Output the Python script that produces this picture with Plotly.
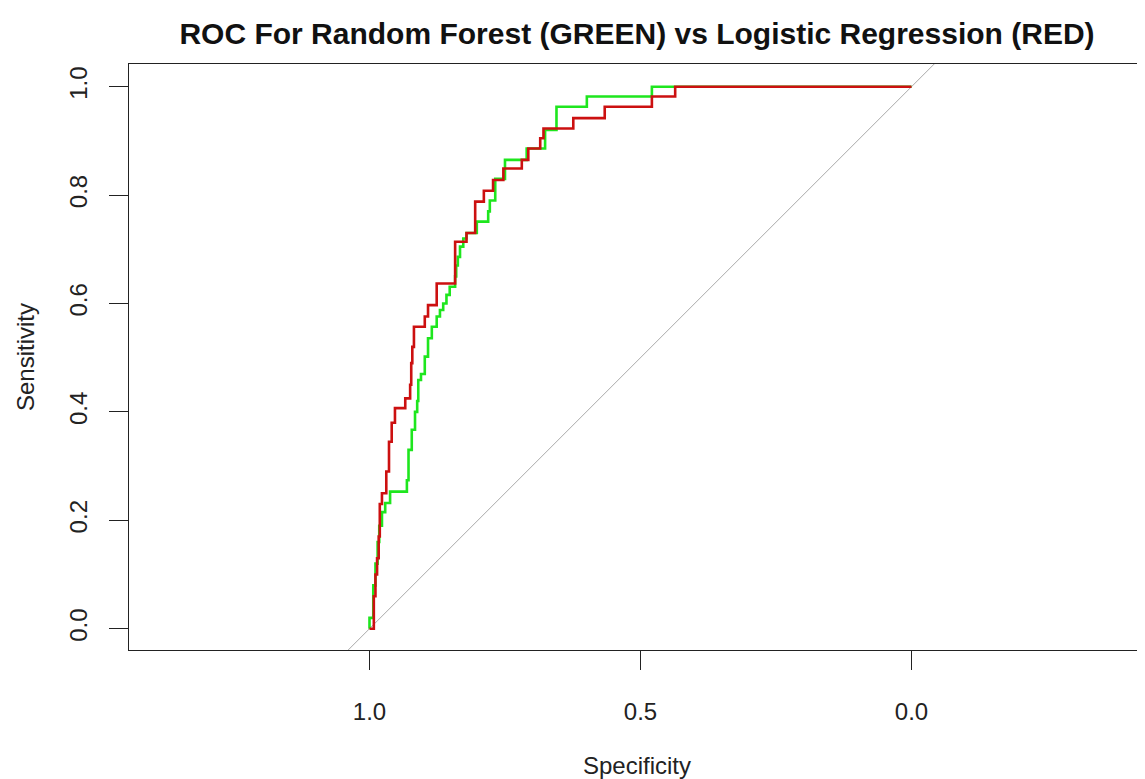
import plotly.graph_objects as go

# Random Forest ROC (green): specificity where each sensitivity level ends
rf_spec = [1.000, 1.000, 0.993, 0.989, 0.985, 0.982, 0.977, 0.971, 0.962, 0.931, 0.928,
           0.922, 0.916, 0.912, 0.910, 0.905, 0.898, 0.892, 0.885, 0.876, 0.870, 0.864,
           0.858, 0.852, 0.842, 0.840, 0.837, 0.833, 0.827, 0.821, 0.802, 0.781, 0.778,
           0.768, 0.750, 0.710, 0.676, 0.655, 0.599, 0.479, 0.000]
rf_sens = [0.000, 0.000, 0.020, 0.080, 0.120, 0.160, 0.190, 0.215, 0.232, 0.253, 0.274,
           0.330, 0.367, 0.400, 0.420, 0.459, 0.470, 0.502, 0.536, 0.557, 0.576, 0.588,
           0.600, 0.616, 0.631, 0.650, 0.670, 0.686, 0.705, 0.720, 0.730, 0.751, 0.770,
           0.790, 0.830, 0.865, 0.886, 0.920, 0.963, 0.982, 1.000]

# Logistic Regression ROC (red)
lr_spec = [1.000, 0.992, 0.989, 0.986, 0.983, 0.981, 0.977, 0.969, 0.964, 0.959, 0.953,
           0.934, 0.925, 0.923, 0.921, 0.918, 0.898, 0.892, 0.876, 0.842, 0.821, 0.805,
           0.789, 0.772, 0.753, 0.719, 0.707, 0.685, 0.679, 0.624, 0.566, 0.479, 0.436,
           0.000]
lr_sens = [0.000, 0.000, 0.060, 0.100, 0.130, 0.170, 0.230, 0.250, 0.290, 0.345, 0.380,
           0.407, 0.425, 0.450, 0.490, 0.520, 0.557, 0.576, 0.597, 0.637, 0.714, 0.730,
           0.788, 0.808, 0.828, 0.849, 0.865, 0.886, 0.905, 0.923, 0.942, 0.963, 0.982,
           1.000]

# identity reference line
diag_spec = [1.2, -0.2]
diag_sens = [-0.2, 1.2]

x_ticks = [1.0, 0.5, 0.0]
x_ticktext = ["1.0", "0.5", "0.0"]
y_ticks = [0.0, 0.2, 0.4, 0.6, 0.8, 1.0]
y_ticktext = ["0.0", "0.2", "0.4", "0.6", "0.8", "1.0"]

FONT = "Liberation Sans, Arial, sans-serif"
W, H = 1137, 771  # page body has an 8px margin

fig = go.Figure()
fig.add_trace(go.Scatter(x=diag_spec, y=diag_sens, mode="lines",
                         line=dict(color="#a9a9a9", width=1), hoverinfo="skip",
                         showlegend=False))
fig.add_trace(go.Scatter(x=rf_spec, y=rf_sens, mode="lines", line_shape="vh",
                         line=dict(color="#1ee61e", width=2.6), showlegend=False,
                         name="Random Forest"))
fig.add_trace(go.Scatter(x=lr_spec, y=lr_sens, mode="lines", line_shape="vh",
                         line=dict(color="#cc1010", width=2.6), showlegend=False,
                         name="Logistic Regression"))

fig.update_layout(
    width=W, height=H,
    margin=dict(l=121, r=0, t=56, b=129),
    paper_bgcolor="white", plot_bgcolor="white",
    font=dict(family=FONT, color="#222222"),
    title=dict(text="<b>ROC For Random Forest (GREEN) vs Logistic Regression (RED)</b>",
               x=0.5, xref="paper", xanchor="center",
               y=1 - 25 / H, yref="container", yanchor="middle",
               font=dict(family=FONT, size=30, color="#111111")),
)
fig.update_xaxes(range=[1.4437, -0.4308], tickvals=x_ticks, ticktext=x_ticktext,
                 ticks="outside", ticklen=19, tickwidth=1.3, tickcolor="#222",
                 showline=True, linecolor="#222", linewidth=1.3, mirror=True,
                 showgrid=False, zeroline=False, ticklabelstandoff=21,
                 tickfont=dict(size=24, family=FONT, color="#222"))
fig.update_yaxes(range=[-0.0393, 1.0419], tickvals=y_ticks, ticktext=y_ticktext,
                 ticks="outside", ticklen=19, tickwidth=1.3, tickcolor="#222",
                 showline=True, linecolor="#222", linewidth=1.3, mirror=False,
                 showgrid=False, zeroline=False, tickangle=-90, ticklabelstandoff=12,
                 tickfont=dict(size=24, family=FONT, color="#222"))

fig.add_annotation(text="Specificity", xref="paper", yref="paper", x=0.5,
                   y=-(765 - 650) / 586, xanchor="center", yanchor="middle",
                   showarrow=False, font=dict(size=24, family=FONT, color="#222"))
fig.add_annotation(text="Sensitivity", xref="paper", yref="paper",
                   x=(25 - 129) / 1016, y=0.5, xanchor="center", yanchor="middle",
                   textangle=-90, showarrow=False,
                   font=dict(size=24, family=FONT, color="#222"))

fig.write_html("out.html")
